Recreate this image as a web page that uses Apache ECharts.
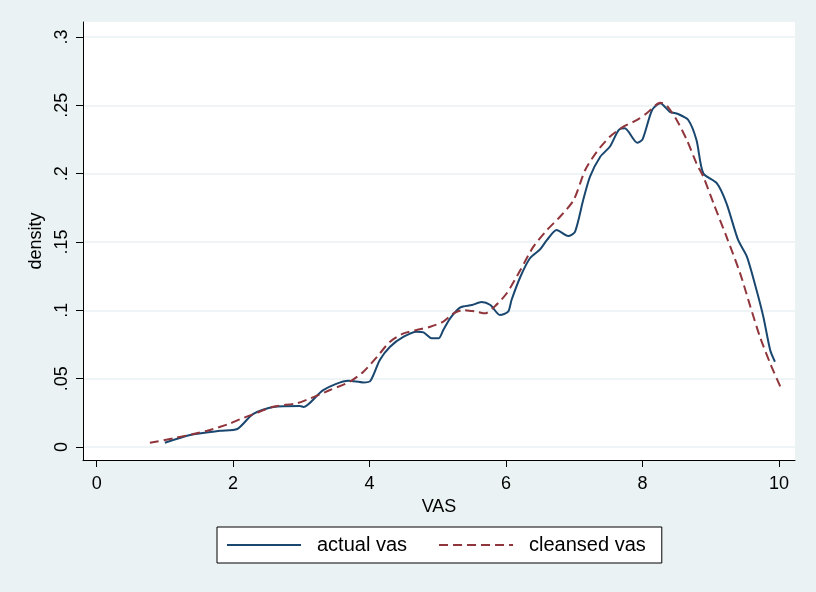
<!DOCTYPE html>
<html>
<head>
<meta charset="utf-8">
<script src="https://cdn.jsdelivr.net/npm/echarts@6/dist/echarts.min.js"></script>
<style>
html,body{margin:0;padding:0;background:#EAF2F3;}
#c{width:816px;height:592px;}
</style>
</head>
<body>
<div id="c"></div>
<script>
// ---- data ----
const actualX = [1.00,1.37,1.81,2.06,2.29,2.59,2.98,3.03,3.32,3.69,3.91,4.01,4.15,4.30,4.50,4.69,4.79,4.91,5.01,5.08,5.18,5.33,5.50,5.64,5.77,5.91,6.03,6.08,6.21,6.35,6.50,6.60,6.74,6.91,7.01,7.13,7.23,7.38,7.52,7.65,7.74,7.92,8.00,8.14,8.26,8.40,8.52,8.67,8.79,8.89,9.09,9.23,9.40,9.53,9.67,9.77,9.87,9.94];
const actualY = [0.0031,0.0088,0.0119,0.0132,0.0241,0.0293,0.0300,0.0293,0.0417,0.0485,0.0473,0.0483,0.0637,0.0734,0.0807,0.0844,0.0839,0.0795,0.0795,0.0856,0.0942,0.1022,0.1039,0.1061,0.1039,0.0966,0.0990,0.1076,0.1246,0.1381,0.1447,0.1515,0.1588,0.1544,0.1575,0.1807,0.1978,0.2124,0.2197,0.2319,0.2332,0.2227,0.2251,0.2466,0.2515,0.2453,0.2437,0.2393,0.2246,0.2003,0.1929,0.1783,0.1515,0.1392,0.1149,0.0953,0.0710,0.0624];
const cleansedX = [0.78,1.13,1.62,1.96,2.10,2.30,2.59,2.93,3.13,3.42,3.71,3.91,4.11,4.30,4.50,4.69,4.89,5.08,5.23,5.37,5.57,5.69,5.84,6.01,6.21,6.40,6.60,6.79,6.99,7.16,7.33,7.52,7.72,7.92,8.06,8.26,8.35,8.50,8.65,8.79,8.89,9.04,9.23,9.43,9.58,9.72,9.87,10.02];
const cleansedY = [0.0031,0.0064,0.0119,0.0173,0.0203,0.0241,0.0295,0.0320,0.0356,0.0417,0.0478,0.0551,0.0661,0.0771,0.0832,0.0856,0.0880,0.0917,0.0978,0.1002,0.0990,0.0978,0.1032,0.1125,0.1295,0.1466,0.1588,0.1685,0.1807,0.2027,0.2161,0.2270,0.2344,0.2393,0.2442,0.2519,0.2502,0.2393,0.2246,0.2076,0.1978,0.1783,0.1539,0.1271,0.1027,0.0807,0.0612,0.0441];
const xTicks = [0,2,4,6,8,10];
const yTicks = [0,0.05,0.1,0.15,0.2,0.25,0.3];
const seriesNames = ['actual vas','cleansed vas'];

const pair = (xs, ys) => xs.map((x, i) => [x, ys[i]]);
const font = "'Liberation Sans', Arial, Helvetica, sans-serif";
const fmtY = v => v === 0 ? '0' : String(+v.toFixed(2)).replace(/^0/, '');

const chart = echarts.init(document.getElementById('c'), null, {renderer: 'canvas'});
chart.setOption({
  backgroundColor: '#EAF2F3',
  animation: false,
  grid: {left: 83, right: 21, top: 22, bottom: 132, show: true, backgroundColor: '#ffffff', borderWidth: 0},
  xAxis: {
    type: 'value', min: -0.2, max: 10.234,
    name: 'VAS', nameLocation: 'middle', nameGap: 38,
    nameTextStyle: {fontFamily: font, fontSize: 18, color: '#000'},
    axisLine: {show: true, onZero: false, lineStyle: {color: '#000', width: 1}},
    axisTick: {show: true, length: 7, customValues: xTicks, lineStyle: {color: '#000'}},
    axisLabel: {customValues: xTicks, fontFamily: font, fontSize: 18, color: '#000', margin: 15},
    splitLine: {show: false}
  },
  yAxis: {
    type: 'value', min: -0.0095, max: 0.311,
    name: 'density', nameLocation: 'middle', nameGap: 36, nameRotate: 90,
    nameTextStyle: {fontFamily: font, fontSize: 18, color: '#000'},
    axisLine: {show: true, onZero: false, lineStyle: {color: '#000', width: 1}},
    axisTick: {show: true, length: 7, customValues: yTicks, lineStyle: {color: '#000'}},
    axisLabel: {customValues: yTicks, formatter: fmtY, rotate: 90, fontFamily: font, fontSize: 18, color: '#000', margin: 12},
    splitLine: {show: true, lineStyle: {color: '#EAF2F3', width: 1.5}}
  },
  legend: {
    left: 217, top: 527,
    data: seriesNames,
    backgroundColor: '#ffffff', borderColor: '#000', borderWidth: 1, borderRadius: 0,
    padding: [8, 16, 8, 9],
    itemWidth: 74, itemHeight: 14, itemGap: 31,
    itemStyle: {opacity: 0},
    textStyle: {fontFamily: font, fontSize: 20, color: '#000', padding: [0, 0, 0, 11]}
  },
  series: [
    {
      name: seriesNames[0], type: 'line', data: pair(actualX, actualY),
      symbol: 'none', smooth: 0.25,
      lineStyle: {color: '#1A476F', width: 2},
      itemStyle: {color: '#1A476F'}
    },
    {
      name: seriesNames[1], type: 'line', data: pair(cleansedX, cleansedY),
      symbol: 'none', smooth: 0.25,
      lineStyle: {color: '#90353B', width: 2, type: [9, 5]},
      itemStyle: {color: '#90353B'}
    }
  ]
});
</script>
</body>
</html>
